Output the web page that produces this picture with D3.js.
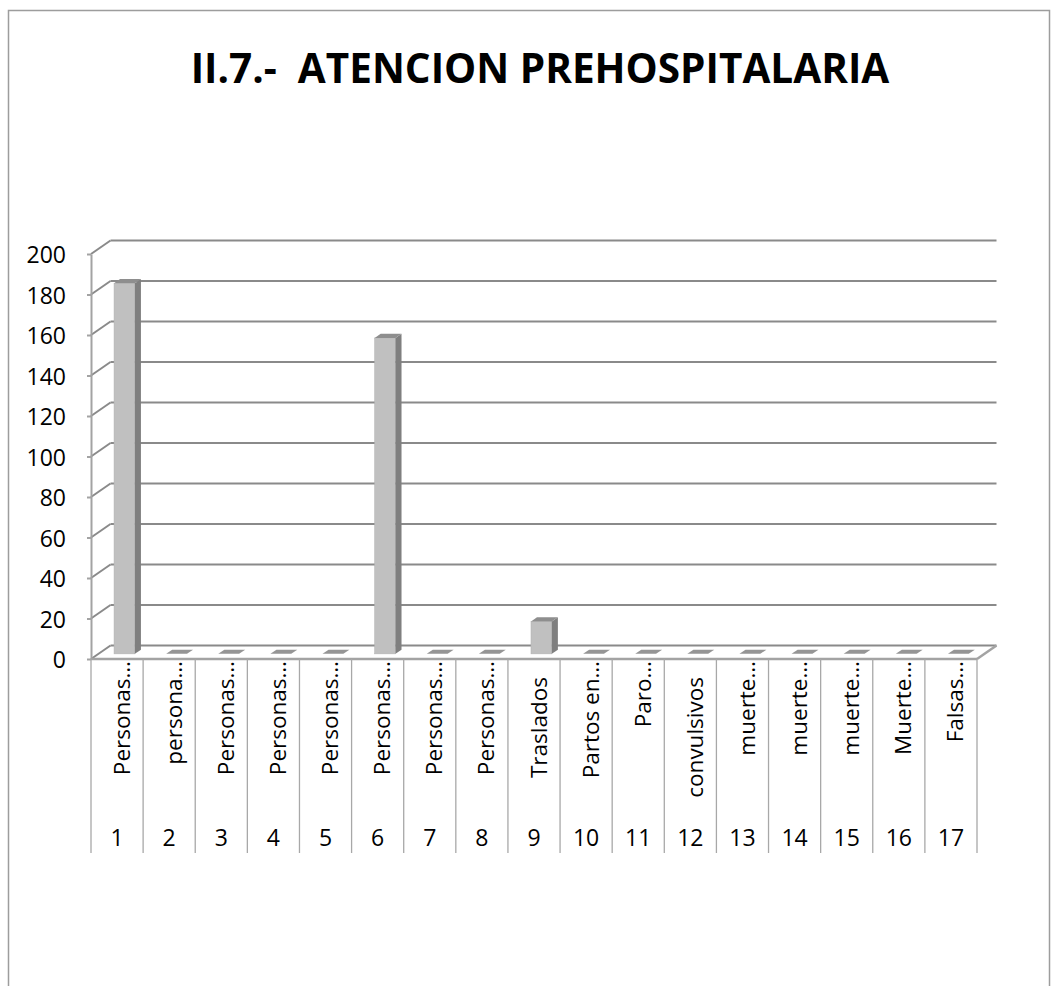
<!DOCTYPE html>
<meta charset="utf-8">
<style>
body { margin: 0; background: #fff; }
text { font-family: "Open Sans", sans-serif; fill: #000; }
</style>
<svg></svg>
<script src="https://d3js.org/d3.v7.min.js"></script>
<script>
var width = 1057,
    height = 986;

var numbers = ["1", "2", "3", "4", "5", "6", "7", "8", "9", "10", "11", "12", "13", "14", "15", "16", "17"];
var labels = ["Personas…", "persona…", "Personas…", "Personas…", "Personas…", "Personas…", "Personas…", "Personas…",
  "Traslados", "Partos en…", "Paro…", "convulsivos", "muerte…", "muerte…", "muerte…", "Muerte…", "Falsas…"];
var values = [183, 0, 0, 0, 0, 156, 0, 0, 16, 0, 0, 0, 0, 0, 0, 0, 0];
var yTicks = [0, 20, 40, 60, 80, 100, 120, 140, 160, 180, 200];
var title = "II.7.-  ATENCION PREHOSPITALARIA";

var svg = d3.select("svg")
    .attr("width", width)
    .attr("height", height);

// outer chart frame
svg.append("rect")
    .attr("x", 8.5).attr("y", 10.5)
    .attr("width", 1041).attr("height", 1000)
    .attr("fill", "none")
    .attr("stroke", "#9d9d9d")
    .attr("stroke-width", 1.5);

svg.append("text")
    .attr("x", 540)
    .attr("y", 83)
    .attr("text-anchor", "middle")
    .style("font-weight", "bold")
    .style("font-size", "40.5px")
    .style("white-space", "pre")
    .text(title);

var x = d3.scaleBand()
    .domain(numbers)
    .range([91, 977]);

var y = d3.scaleLinear()
    .domain([0, 200])
    .range([659, 254]);

// depth offset of the 3d box
var DX = 19.5, DY = -13.5;
var d0 = 0.38, d1 = 0.69;
var bw = x.bandwidth();
var barW = bw * 0.4;

function P(px, v, d) { return [px + d * DX, y(v) + d * DY]; }

var gridColor = "#8a8a8a";
var grid = svg.append("g")
    .attr("stroke", gridColor)
    .attr("stroke-width", 2)
    .attr("fill", "none");

// back wall + side wall
yTicks.forEach(function(t) {
  grid.append("path").attr("d", d3.line()([P(x.range()[0], t, 1), P(x.range()[1], t, 1)]));
  grid.append("path").attr("d", d3.line()([P(x.range()[0], t, 0), P(x.range()[0], t, 1)]));
});

// floor
var floor = svg.append("g")
    .attr("stroke", "#a3a3a3")
    .attr("stroke-width", 2.5)
    .attr("fill", "none");
floor.append("path").attr("d", d3.line()([P(x.range()[1], 0, 0), P(x.range()[1], 0, 1)]));

// bars
var bars = svg.append("g");
values.forEach(function(v, i) {
  var xl = x(numbers[i]) + (bw - barW) / 2,
      xr = xl + barW;
  var top = [P(xl, v, d0), P(xr, v, d0), P(xr, v, d1), P(xl, v, d1)];
  if (v > 0) {
    var f0 = P(xl, v, d0), f1 = P(xr, 0, d0);
    bars.append("rect")
        .attr("x", f0[0]).attr("y", f0[1])
        .attr("width", f1[0] - f0[0]).attr("height", f1[1] - f0[1])
        .attr("fill", "#c0c0c0")
        .attr("stroke", "#b0b0b0").attr("stroke-width", 0.5);
    bars.append("path")
        .attr("d", d3.line()([P(xr, v, d0), P(xr, v, d1), P(xr, 0, d1), P(xr, 0, d0)]) + "Z")
        .attr("fill", "#7f7f7f");
    bars.append("path")
        .attr("d", d3.line()(top) + "Z")
        .attr("fill", "#8e8e8e");
  } else {
    bars.append("path")
        .attr("d", d3.line()(top) + "Z")
        .attr("fill", "#959595");
  }
});

// front floor edge
floor.append("path").attr("d", d3.line()([P(x.range()[0], 0, 0), P(x.range()[1], 0, 0)]));

// y axis
var yAxis = svg.append("g")
    .attr("transform", "translate(" + x.range()[0] + ",0)")
    .call(d3.axisLeft(y).tickValues(yTicks).tickSize(4).tickSizeOuter(0).tickPadding(21));
yAxis.select(".domain").attr("stroke", "#a3a3a3").attr("stroke-width", 2);
yAxis.selectAll(".tick line").attr("stroke", "#a3a3a3").attr("stroke-width", 2);
yAxis.selectAll(".tick text")
    .attr("dy", "0.38em")
    .style("font-size", "23px")
    .style("font-family", "'Open Sans', sans-serif")
    .attr("fill", "#000");

// category dividers
var cat = svg.append("g");
d3.range(numbers.length + 1).forEach(function(k) {
  var xx = x.range()[0] + k * bw;
  cat.append("line")
      .attr("x1", xx).attr("x2", xx)
      .attr("y1", 659).attr("y2", 853)
      .attr("stroke", "#a8a8a8")
      .attr("stroke-width", 1.3);
});

cat.selectAll(".lab")
    .data(labels)
    .join("text")
    .attr("class", "lab")
    .attr("text-anchor", "end")
    .attr("transform", function(d, i) {
      var cx = x(numbers[i]) + bw / 2 + 12.5;
      var cy = d.slice(-1) === "…" ? 661 : 677;
      return "translate(" + cx + "," + cy + ") rotate(-90)";
    })
    .style("font-size", "22.5px")
    .text(function(d) { return d; });

cat.selectAll(".num")
    .data(numbers)
    .join("text")
    .attr("class", "num")
    .attr("text-anchor", "middle")
    .attr("x", function(d) { return x(d) + bw / 2; })
    .attr("y", 846)
    .style("font-size", "23px")
    .text(function(d) { return d; });
</script>
